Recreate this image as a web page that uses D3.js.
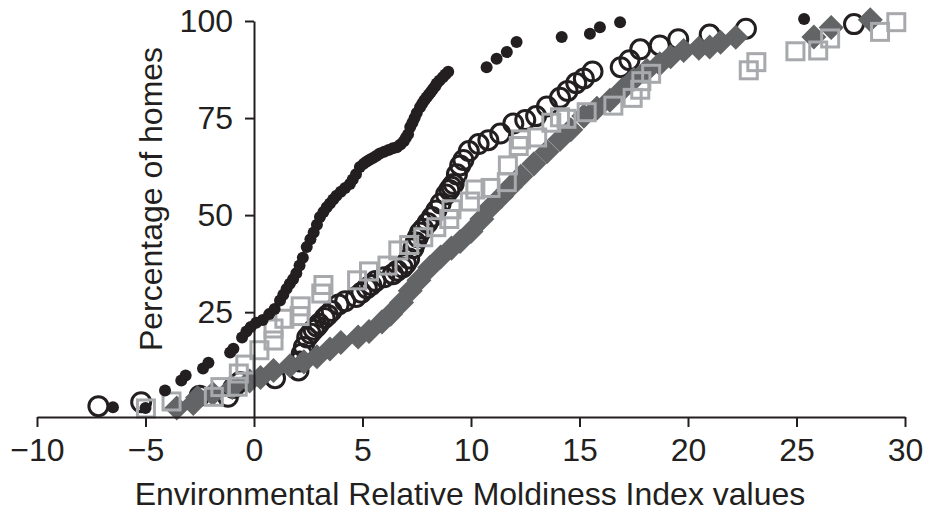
<!DOCTYPE html>
<html>
  <head>
    <meta charset="utf-8">
    <title>Environmental Relative Moldiness Index</title>
    <style>
      body { margin: 0; background: #fff; overflow: hidden; }
      text { font-family: Arial, "Liberation Sans", sans-serif; fill: #231f20; }
    </style>
    <script src="https://d3js.org/d3.v7.min.js"></script>
  </head>
  <body>
    <svg width="929" height="516"></svg>
    <script>
      // series: ERMI value and cumulative % of homes
      const dotsX = [-6.5, -5.0, -4.1, -3.35, -3.15, -2.35, -2.1, -1.1, -0.95, -0.55, -0.35, -0.15, 0.1, 0.4, 0.7, 0.95, 1.2, 1.35, 1.5, 1.65, 1.8, 1.95, 2.1, 2.25, 2.43, 2.6, 2.75, 2.9, 3.04, 3.2, 3.35, 3.5, 3.65, 3.8, 4.0, 4.2, 4.42, 4.55, 4.7, 4.88, 5.05, 5.2, 5.35, 5.5, 5.65, 5.8, 6.0, 6.2, 6.4, 6.58, 6.75, 6.9, 7.0, 7.1, 7.2, 7.3, 7.4, 7.5, 7.65, 7.75, 7.85, 7.95, 8.05, 8.15, 8.25, 8.35, 8.42, 8.55, 8.7, 8.82, 8.95, 10.72, 11.18, 11.65, 12.1, 14.18, 15.48, 15.94, 16.87, 25.35];
      const dotsY = [0.5, 0.3, 4.8, 7.4, 8.7, 10.5, 12, 14.6, 15.6, 18.5, 20, 21.2, 22.3, 23, 24.5, 25.8, 28, 29.5, 31, 32.3, 33.5, 35, 37, 39, 41.8, 43.8, 45.5, 47.5, 49.5, 50.8, 52, 53, 54, 55, 56, 57, 58, 59.2, 60.5, 62.4, 63.2, 63.8, 64.3, 64.8, 65.3, 65.9, 66.3, 66.8, 67.2, 67.5, 68.2, 69, 69.9, 70.8, 72.7, 73.8, 75, 76.3, 77.8, 78.7, 79.6, 80.3, 81, 81.7, 82.5, 83.2, 83.9, 84.7, 85.5, 86.2, 86.9, 88.1, 90.3, 92, 94.6, 95.9, 96.7, 98.4, 99.7, 100.5];

      const circlesX = [-7.17, -5.2, -2.5, -1.2, -0.95, -0.65, 0.97, 2.05, 2.1, 2.2, 2.3, 2.45, 2.6, 2.75, 2.9, 3.0, 3.25, 3.4, 3.58, 3.9, 4.2, 4.7, 4.95, 5.2, 5.4, 5.6, 6.0, 6.4, 6.6, 6.85, 7.0, 7.15, 7.35, 7.45, 7.55, 7.65, 7.8, 8.0, 8.2, 8.4, 8.6, 8.85, 9.0, 9.1, 9.2, 9.35, 9.5, 9.65, 9.9, 10.35, 10.8, 11.35, 11.95, 12.5, 13.0, 13.5, 14.1, 14.45, 14.85, 15.2, 15.6, 16.9, 17.3, 17.8, 18.7, 19.55, 21.0, 22.67, 27.65];
      const circlesY = [0.8, 1.8, 3.5, 3.2, 5.5, 7, 8, 10, 12.3, 14.3, 16, 18.5, 19.5, 20.5, 21.3, 22, 23.5, 24.3, 25.3, 27, 27.8, 28.9, 30, 31.2, 32, 33, 34, 34.8, 35.7, 36.5, 37.5, 38.8, 41.5, 43, 44.3, 45.5, 46.5, 48, 49.5, 51.2, 53, 55.3, 56.5, 57.3, 58, 60.5, 62.8, 64.2, 66.5, 68.3, 69.3, 71, 73.6, 74.5, 75.5, 78, 80.2, 82, 84, 85.2, 87, 88.1, 89.9, 92.7, 93.7, 95.3, 96.5, 98, 99.2];

      const diamondsX = [-3.56, -2.8, -2.6, -1.9, -1.0, -0.2, 0.3, 0.9, 1.66, 2.3, 2.9, 3.5, 4.0, 4.8, 5.3, 5.9, 6.3, 6.8, 7.2, 7.6, 8.1, 8.6, 9.1, 9.5, 10.0, 10.5, 10.9, 11.4, 11.8, 12.3, 12.9, 13.5, 14.1, 14.6, 15.2, 15.8, 16.4, 17.0, 17.5, 18.1, 18.7, 19.2, 19.8, 20.5, 21.0, 21.5, 22.2, 25.8, 26.6, 28.4];
      const diamondsY = [0.3, 1.5, 3, 4, 5.6, 7.3, 8.2, 10, 11.2, 12.2, 13.5, 15.5, 17.2, 18.6, 20, 22.5, 24.5, 27.5, 30.5, 33.2, 36.5, 39.2, 41.5, 43.2, 45.8, 49, 52, 54.8, 57.2, 60, 63.2, 66.3, 69.5, 72, 75.5, 77.5, 79.6, 82.5, 85, 87.3, 89, 90.8, 92.4, 93, 93.3, 94.5, 95.8, 95.9, 98.3, 100.3];

      const squaresX = [-4.98, -3.8, -1.85, -1.55, -0.75, -0.7, -0.4, 0.25, 0.9, 0.9, 1.4, 2.1, 2.15, 3.1, 3.2, 4.75, 5.3, 6.15, 6.65, 7.15, 7.8, 8.4, 9.0, 9.1, 9.95, 10.2, 10.9, 11.65, 11.7, 12.2, 12.3, 13.05, 13.7, 14.1, 14.4, 15.33, 16.56, 17.45, 17.8, 17.85, 18.3, 22.8, 23.15, 24.95, 26.0, 26.55, 28.85, 29.6];
      const squaresY = [0.2, 2, 3.2, 5.7, 5.8, 9.2, 11.5, 15.2, 17.7, 20.8, 23.3, 24, 26.5, 29.8, 32, 33.2, 35.5, 37, 40.9, 42.3, 44.3, 46.9, 49, 51.5, 53.5, 56.6, 57, 58.5, 62.8, 67.8, 69.5, 70, 73.8, 75.2, 74.8, 76.5, 78.2, 80.2, 82.3, 84.5, 86.4, 87.3, 89.4, 92.2, 92.4, 95.5, 97.2, 99.7];

      const xTicks = [-10, -5, 0, 5, 10, 15, 20, 25, 30];
      const yTicks = [25, 50, 75, 100];

      const ink = '#231f20';
      const svg = d3.select('svg');

      const x = d3.scaleLinear().domain([-10, 30]).range([37, 905]);
      const y = d3.scaleLinear().domain([-2, 100]).range([417, 21]);

      const pts = (xs, ys) => xs.map((v, i) => ({ x: v, y: ys[i] }));

      // open circles (bottom layer)
      svg.append('g').selectAll('circle')
        .data(pts(circlesX, circlesY))
        .enter().append('circle')
          .attr('cx', d => x(d.x))
          .attr('cy', d => y(d.y))
          .attr('r', 9.5)
          .attr('fill', 'none')
          .attr('stroke', ink)
          .attr('stroke-width', 3);

      // filled diamonds
      const diamond = d3.symbol().type(d3.symbolSquare).size(313);
      svg.append('g').selectAll('path')
        .data(pts(diamondsX, diamondsY))
        .enter().append('path')
          .attr('d', diamond)
          .attr('transform', d => `translate(${x(d.x)},${y(d.y)}) rotate(45)`)
          .attr('fill', '#636466');

      // open squares
      const side = 17;
      svg.append('g').selectAll('rect')
        .data(pts(squaresX, squaresY))
        .enter().append('rect')
          .attr('x', d => x(d.x) - side / 2)
          .attr('y', d => y(d.y) - side / 2)
          .attr('width', side)
          .attr('height', side)
          .attr('fill', 'none')
          .attr('stroke', '#a7a9ac')
          .attr('stroke-width', 3);

      // small filled dots (top)
      svg.append('g').selectAll('circle')
        .data(pts(dotsX, dotsY))
        .enter().append('circle')
          .attr('cx', d => x(d.x))
          .attr('cy', d => y(d.y))
          .attr('r', 6)
          .attr('fill', ink);

      // x axis
      const xAxis = svg.append('g')
        .attr('transform', `translate(0,${y(-2)})`)
        .call(d3.axisBottom(x).tickValues(xTicks).tickSize(10).tickPadding(11).tickSizeOuter(0));
      xAxis.select('.domain').attr('stroke', ink).attr('stroke-width', 2);
      xAxis.selectAll('.tick line').attr('stroke', ink).attr('stroke-width', 2);
      xAxis.selectAll('.tick text').style('font-size', '32px').attr('fill', ink);

      // y axis at x = 0
      const yAxis = svg.append('g')
        .attr('transform', `translate(${x(0)},0)`)
        .call(d3.axisLeft(y).tickValues(yTicks).tickSize(9).tickPadding(12).tickSizeOuter(0));
      yAxis.select('.domain').attr('stroke', ink).attr('stroke-width', 2);
      yAxis.selectAll('.tick line').attr('stroke', ink).attr('stroke-width', 2);
      yAxis.selectAll('.tick text').style('font-size', '32px').attr('fill', ink);

      svg.append('text')
        .attr('x', 470)
        .attr('y', 505)
        .attr('text-anchor', 'middle')
        .style('font-size', '32px')
        .text('Environmental Relative Moldiness Index values');

      svg.append('text')
        .attr('transform', 'translate(162,199) rotate(-90)')
        .attr('text-anchor', 'middle')
        .style('font-size', '32px')
        .text('Percentage of homes');
    </script>
  </body>
</html>
